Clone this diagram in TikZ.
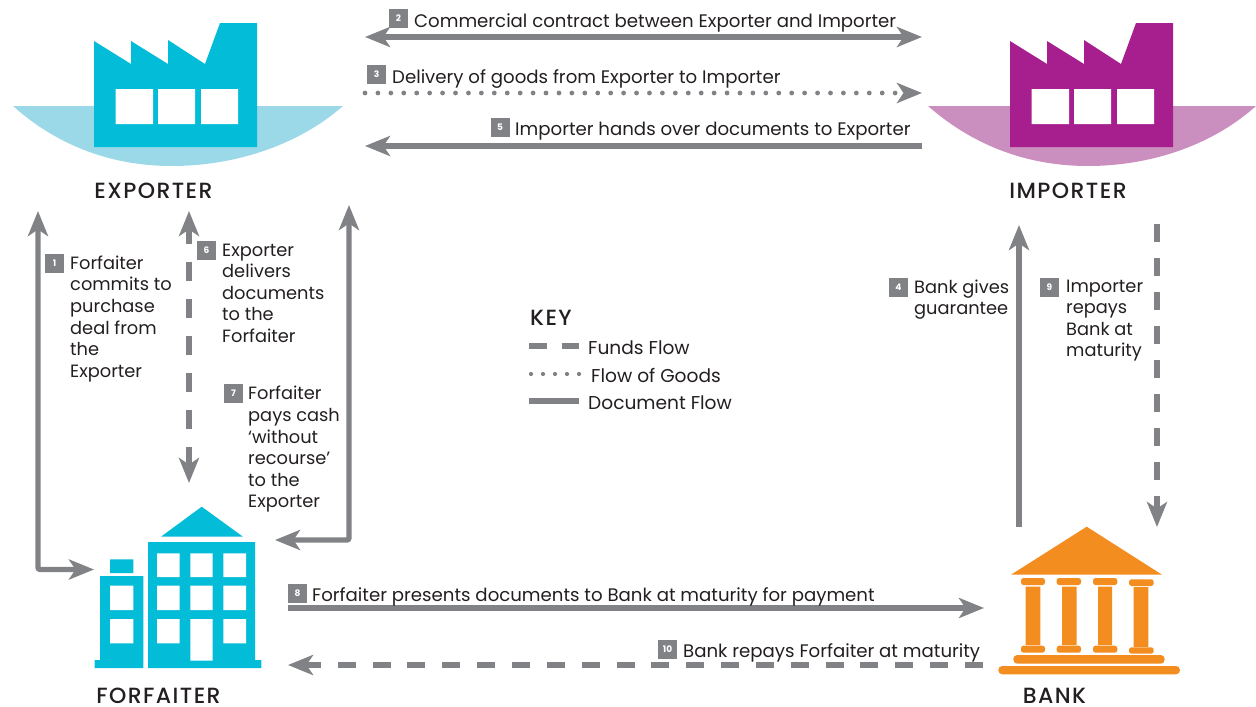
\documentclass[tikz,border=0pt]{standalone}
\usepackage{fontspec}
\setmainfont{Poppins}
\newfontfamily\titlefont[LetterSpace=6.5,UprightFont=* Medium]{Poppins}
\usetikzlibrary{arrows.meta}
\definecolor{arrowgray}{HTML}{808285}
\definecolor{inkblack}{HTML}{231F20}
\definecolor{cyanmain}{HTML}{03BCD7}
\definecolor{cyanbowl}{HTML}{9BD9E8}
\definecolor{purplemain}{HTML}{A71E8E}
\definecolor{purplebowl}{HTML}{CB8FBF}
\definecolor{orangemain}{HTML}{F48D20}
\tikzset{
  flowline/.style={draw=arrowgray,line width=5.2pt},
  fwd/.style={-{Stealth[length=25pt,width=20pt,inset=6.5pt]}},
  both/.style={{Stealth[length=25pt,width=20pt,inset=6.5pt]}-{Stealth[length=25pt,width=20pt,inset=6.5pt]}},
  goodsline/.style={draw=arrowgray,line width=4.8pt,line cap=round,dash pattern=on 0pt off 12.93pt},
  badge/.style={fill=arrowgray,text=white,minimum size=19pt,inner sep=0pt,font=\fontsize{9}{9}\selectfont\bfseries},
  lbl/.style={anchor=west,inner sep=0pt,text=inkblack,font=\fontsize{18.15}{21.5}\selectfont},
  keylbl/.style={anchor=west,inner sep=0pt,text=inkblack,font=\fontsize{18.6}{21.5}\selectfont},
  multi/.style={anchor=north west,inner sep=0pt,align=left,text=inkblack,font=\fontsize{17.8}{21.6}\selectfont},
  title/.style={inner sep=0pt,text=inkblack,font=\fontsize{22}{24}\titlefont},
  hole/.style={fill=white},
}
\begin{document}
\begin{tikzpicture}[x=1pt,y=-1pt]
\useasboundingbox (0,0) rectangle (1256,707);
% exporter
\fill[cyanbowl] (13,106) .. controls (60,148) and (115,166) .. (172,166) .. controls (230,166) and (295,148) .. (343,106) -- cycle;
\fill[cyanmain] (94,41) -- (131,64) -- (131,41) -- (168,64) -- (168,40) -- (205,64) -- (220,23) -- (257,23) -- (257,147) -- (94,147) -- cycle;
\fill[hole] (115.5,89) rectangle (153,124) (158,89) rectangle (195,124) (201,89) rectangle (238,124);
\node[title] (exporter) at (153.5,190.5) {EXPORTER};
% importer
\begin{scope}[xshift=916pt]
\fill[purplebowl] (12,106) .. controls (60,148) and (115,166) .. (172,166) .. controls (230,166) and (293,148) .. (340,106) -- cycle;
\fill[purplemain] (94,41) -- (131,64) -- (131,41) -- (168,64) -- (168,40) -- (205,64) -- (220,23) -- (257,23) -- (257,147) -- (94,147) -- cycle;
\fill[hole] (115.5,89) rectangle (153,124) (158,89) rectangle (195,124) (201,89) rectangle (238,124);
\end{scope}
\node[title] (importer) at (1068,190.5) {IMPORTER};
% forfaiter
\fill[cyanmain] (161,536.7) -- (201.7,506.7) -- (243,536.7) -- cycle;
\fill[cyanmain] (148,542) rectangle (255,668) (255,660) rectangle (261.3,668);
\fill[cyanmain] (100,576) rectangle (143.3,668) (94.7,660) rectangle (100,668) (110,559.3) rectangle (133.3,573);
\fill[hole] (110,585.7) rectangle (133.3,610) (110,619) rectangle (133.3,643.3);
\fill[hole] (157,553.3) rectangle (179.7,577) (190.3,553.3) rectangle (212.7,577) (223.3,553.3) rectangle (246,577);
\fill[hole] (157,585.7) rectangle (179.7,610) (190.3,585.7) rectangle (212.7,610) (223.3,585.7) rectangle (246,610);
\fill[hole] (157,619) rectangle (179.7,643.3) (190.3,619) rectangle (212.7,660.7) (223.3,619) rectangle (246,643.3);
\node[title] (forfaiter) at (158.5,695.5) {FORFAITER};
% bank
\fill[orangemain] (1011,574.7) -- (1086.7,526.7) -- (1162,574.7) -- cycle;
\fill[orangemain] (1025.7,586.7) rectangle (1040.3,645) (1062,586.7) rectangle (1076.7,645) (1098,586.7) rectangle (1112,645) (1133.7,587) rectangle (1148.3,647);
\fill[orangemain,rounded corners=2.5pt] (1021,578) rectangle (1045,585) (1056.7,578) rectangle (1081,585) (1093,578) rectangle (1117.3,585) (1129,579.3) rectangle (1153.7,586);
\fill[orangemain,rounded corners=2.5pt] (1021,645.7) rectangle (1045,652.7) (1056.7,645.7) rectangle (1081,652.7) (1093,645.7) rectangle (1117.3,652.7) (1129,647.3) rectangle (1153.7,653.7);
\fill[orangemain,rounded corners=4pt] (1013.3,655) rectangle (1164.7,663.7) (998.3,666) rectangle (1180,674.3);
\node[title] (bank) at (1054.5,695.5) {BANK};
% connector ends
\coordinate (c2a) at (365,37); \coordinate (c2b) at (922,37);
\coordinate (c3a) at (365,93); \coordinate (c3m) at (896,93); \coordinate (c3n) at (906,93); \coordinate (c3b) at (922,93);
\coordinate (c5a) at (922,146); \coordinate (c5b) at (365,146);
\coordinate (c1a) at (38,211); \coordinate (c1c) at (38,569.5); \coordinate (c1b) at (94,569.5);
\coordinate (c6a) at (189,211); \coordinate (c6b) at (189,483);
\coordinate (c7a) at (349,205); \coordinate (c7c) at (349,540); \coordinate (c7b) at (275,540);
\coordinate (c4a) at (1019,527); \coordinate (c4b) at (1019,225);
\coordinate (c9a) at (1157,224); \coordinate (c9b) at (1157,527);
\coordinate (c8a) at (288,608); \coordinate (c8b) at (984,608);
\coordinate (c10a) at (983,665); \coordinate (c10b) at (288,665);
% connectors
\draw[flowline,both] (c2a) -- (c2b);
\draw[goodsline] (c3a) -- (c3m);
\draw[flowline,fwd] (c3n) -- (c3b);
\draw[flowline,fwd] (c5a) -- (c5b);
\draw[flowline,both,rounded corners=2pt] (c1a) -- (c1c) -- (c1b);
\draw[flowline,both,dash pattern=on 19pt off 18pt,dash phase=3pt] (c6a) -- (c6b);
\draw[flowline,both,rounded corners=2pt] (c7a) -- (c7c) -- (c7b);
\draw[flowline,fwd] (c4a) -- (c4b);
\draw[flowline,fwd,dash pattern=on 17.5pt off 16.5pt] (c9a) -- (c9b);
\draw[flowline,fwd] (c8a) -- (c8b);
\draw[flowline,fwd,dash pattern=on 18pt off 16.85pt] (c10a) -- (c10b);
% badges
\node[badge] (b1) at (54.5,263.5) {1};
\node[badge] (b2) at (398.5,18.5) {2};
\node[badge] (b3) at (376.5,74.5) {3};
\node[badge] (b4) at (898.5,287) {4};
\node[badge] (b5) at (500,127.5) {5};
\node[badge] (b6) at (206.5,250.5) {6};
\node[badge] (b7) at (233.5,393.5) {7};
\node[badge] (b8) at (297.5,593) {8};
\node[badge] (b9) at (1049.5,287) {9};
\node[badge] (b10) at (667.5,649) {10};
% labels
\node[lbl] (t2) at (414,22.5) {Commercial contract between Exporter and Importer};
\node[lbl] (t3) at (392,79.5) {Delivery of goods from Exporter to Importer};
\node[lbl] (t5) at (515,131.5) {Importer hands over documents to Exporter};
\node[lbl] (t8) at (312,596.5) {Forfaiter presents documents to Bank at maturity for payment};
\node[lbl] (t10) at (683,652.5) {Bank repays Forfaiter at maturity};
\node[multi] (t1) at (70,255.5) {Forfaiter\\commits to\\purchase\\deal from\\the\\Exporter};
\node[multi] (t6) at (222,243.5) {Exporter\\delivers\\documents\\to the\\Forfaiter};
\node[multi] (t7) at (248,386) {Forfaiter\\pays cash\\‘without\\recourse’\\to the\\Exporter};
\node[multi] (t4) at (914,279.5) {Bank gives\\guarantee};
\node[multi] (t9) at (1066,279.5) {Importer\\repays\\Bank at\\maturity};
% key
\node[title,anchor=west] (keyt) at (530,318) {KEY};
\coordinate (k1a) at (529,346); \coordinate (k1b) at (579,346);
\coordinate (k2a) at (531,374); \coordinate (k2b) at (583,374);
\coordinate (k3a) at (529,401); \coordinate (k3b) at (579,401);
\draw[flowline,dash pattern=on 17.5pt off 15pt] (k1a) -- (k1b);
\draw[draw=arrowgray,line width=4.2pt,line cap=round,dash pattern=on 0pt off 12pt] (k2a) -- (k2b);
\draw[flowline] (k3a) -- (k3b);
\node[keylbl] (kt1) at (588,348) {Funds Flow};
\node[keylbl] (kt2) at (591,375) {Flow of Goods};
\node[keylbl] (kt3) at (588,403) {Document Flow};
\end{tikzpicture}
\end{document}
